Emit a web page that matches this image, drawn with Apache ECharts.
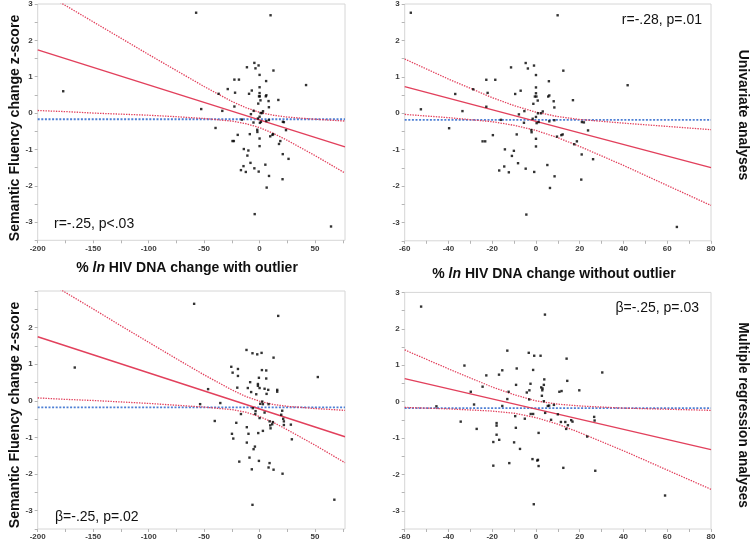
<!DOCTYPE html>
<html><head><meta charset="utf-8">
<script src="https://cdn.jsdelivr.net/npm/echarts@6/dist/echarts.min.js"></script>
<style>html,body{margin:0;padding:0;background:#fff}#c{width:750px;height:541px}</style>
</head><body><div id="c"></div>
<script>
// ---------- DATA ----------
// Univariate (without outlier) points: x = % ln HIV DNA change, y = semantic fluency change z-score
const uniX = [-57.2,-52.6,-39.7,-36.9,-33.6,-28.7,-22.7,-22.1,-18.6,-22.7,-24.4,-23.2,-19.7,-16.0,-14.2,-16.8,-14.5,-12.4,-11.4,-11.0,-10.1,-9.5,-8.8,-8.2,-7.0,-7.8,-5.5,-5.3,-4.7,-3.7,-4.7,-4.4,-2.1,-2.0,-1.5,-1.2,-0.9,-0.8,-0.5,0,0,0,0.2,0,0,0,0.8,0.9,0.3,1.2,2.3,3.1,5.2,5.9,5.6,6.1,6.1,8.1,8.4,8.4,8.5,6.4,9.6,9.9,12.5,16.9,21.0,21.9,23.8,11.6,12.2,17.5,18.7,20.9,26.1,20.7,41.9,64.4];
const uniY = [2.76,0.11,-0.41,0.53,0.06,0.66,0.92,0.56,0.92,0.18,-0.77,-0.77,-0.60,-0.18,-0.99,-1.57,-1.46,-1.62,1.26,-1.17,-1.03,0.53,-0.58,-1.37,0.62,-0.03,-0.26,0.06,1.38,1.23,-1.52,-2.78,-0.46,-0.52,-0.15,0.26,1.31,-1.61,0.46,1.05,0.71,0.55,0.46,-0.10,-0.70,-0.91,0.35,0.0,-0.27,-0.24,0.0,0.05,-1.42,0.88,0.46,0.49,-0.22,0.33,0.16,-0.19,-1.73,-2.05,-0.64,2.69,1.17,0.36,-0.24,-0.25,-0.47,-0.60,-0.58,-0.85,-0.77,-1.13,-1.26,-1.82,0.77,-3.12];
const uniOutlier = [-177, 0.60];

// Multiple regression, with outlier
const mwX = [-166.6,-59.0,-53.6,-46.4,-40.4,-35.4,-25.5,-24.3,-24.9,-23.7,-21.0,-20.1,-19.5,-19.5,-18.3,-16.8,-11.8,-11.5,-11.5,-10.6,-10.0,-9.1,-8.5,-7.6,-7.0,-6.4,-6.1,-6.4,-5.4,-4.2,-3.9,-3.6,-3.0,-2.1,-1.5,-1.5,-1.2,-0.6,-0.6,0,0,0.6,1.8,2.1,2.4,3.0,3.0,4.5,4.5,6.0,6.0,6.3,7.8,8.1,8.1,9.0,9.0,9.6,9.9,11.4,12.0,12.6,12.6,15.9,15.9,16.8,19.5,20.4,20.7,21.3,21.9,21.9,28.2,29.1,52.5,67.4];
const mwY = [0.91,2.65,-0.09,0.32,-0.55,-0.06,0.93,0.77,-0.90,-1.03,-0.60,0.36,0.87,0.68,-1.66,-0.36,1.39,-0.72,-1.14,0.35,-0.90,-1.55,0.51,0.24,-1.87,1.30,-0.20,-2.84,-1.32,-1.25,-0.36,-0.28,0.18,1.27,0.46,0.41,-0.88,0.63,-1.64,0.35,-0.47,-0.08,1.31,0.84,-0.02,-0.09,-0.82,-0.32,0.33,0.83,0.61,0.19,0.30,-0.09,-1.82,-1.70,-0.56,-0.67,-0.75,-0.64,-0.58,1.18,-1.88,0.30,0.25,2.32,-0.38,-0.27,-1.99,-0.49,-0.56,-0.66,-0.65,-1.05,0.65,-2.70];

// Multiple regression, without outlier
const moX = [-52.5,-45.5,-34.4,-32.7,-29.8,-28.3,-27.1,-24.4,-22.7,-19.5,-19.5,-18.0,-18.0,-18.0,-16.8,-16.9,-15.4,-15.4,-13.1,-12.5,-13.1,-12.2,-10.0,-9.5,-9.2,-8.8,-9.1,-7.3,-5.1,-4.2,-3.3,-3.0,-2.5,-3.1,-2.4,-1.3,-1.6,-1.3,-0.8,-1.0,0.6,0.9,1.2,1.2,2.1,2.4,3.0,2.9,2.7,3.8,3.6,4.1,3.6,4.2,5.4,6.0,6.9,8.2,10.7,11.7,10.0,11.4,13.4,13.8,14.0,14.3,14.6,16.1,16.7,12.5,19.8,23.4,26.6,26.8,27.1,30.3,59.0];
const moY = [2.61,-0.13,-0.55,0.99,0.27,-0.08,-0.75,0.41,0.72,-1.11,-1.76,-0.59,-0.66,-0.91,-1.05,0.74,0.86,-0.12,1.40,0.27,0.07,-1.69,-1.12,-0.40,-0.72,0.91,0.46,-1.30,-0.47,0.25,1.34,0.31,0.49,0.06,-0.34,-0.34,-1.58,0.87,1.26,-2.82,-1.62,-1.60,-1.77,-0.86,1.26,0.39,0.36,0.31,0.16,0.61,0.46,2.39,0.01,-0.31,-0.12,-0.11,-0.50,-0.09,0.27,0.29,-0.35,-0.56,-0.56,-0.75,1.18,0.57,-0.65,-0.51,-0.55,-1.82,0.31,-0.96,-0.42,-0.52,-1.90,0.80,-2.58];

// Fit lines: [x, y] endpoints
const fit1 = [[-200, 1.74], [77, -0.93]];
const fit2 = [[-60, 0.73], [80, -1.49]];
const fit3 = [[-200, 1.75], [77, -0.98]];
const fit4 = [[-60, 0.63], [80, -1.32]];
const meanY = [-0.17, -0.18, -0.18, -0.18];

// Confidence bands
const bandXwide = [-200,-175,-150,-125,-100,-75,-50,-25,-12.5,0,12.5,25,50,77];
const up1 = [3.41,2.96,2.51,2.06,1.61,1.17,0.73,0.32,0.15,0.02,-0.06,-0.11,-0.17,-0.22];
const lo1 = [0.07,0.04,0.00,-0.03,-0.06,-0.10,-0.15,-0.22,-0.29,-0.40,-0.56,-0.75,-1.17,-1.65];
const up3 = [3.42,2.96,2.51,2.05,1.60,1.15,0.71,0.30,0.12,-0.01,-0.10,-0.15,-0.21,-0.26];
const lo3 = [0.08,0.04,0.01,-0.03,-0.07,-0.12,-0.17,-0.24,-0.31,-0.43,-0.59,-0.79,-1.21,-1.69];
const bandXnarrow = [-60,-40,-20,-10,0,10,20,40,60,80];
const up2 = [1.49,0.94,0.43,0.21,0.03,-0.09,-0.17,-0.27,-0.36,-0.45];
const lo2 = [-0.03,-0.12,-0.23,-0.33,-0.47,-0.67,-0.91,-1.43,-1.98,-2.53];
const up4 = [1.42,0.90,0.40,0.19,0.02,-0.07,-0.12,-0.18,-0.21,-0.24];
const lo4 = [-0.16,-0.20,-0.26,-0.32,-0.44,-0.62,-0.85,-1.35,-1.88,-2.41];

// Tick labels
const xLabelsWide = [-200,-150,-100,-50,0,50];
const xTicksWide = [-200,-175,-150,-125,-100,-75,-50,-25,0,25,50,75];
const xLabelsNarrow = [-60,-40,-20,0,20,40,60,80];
const xTicksNarrow = [-60,-50,-40,-30,-20,-10,0,10,20,30,40,50,60,70,80];
const yLabels = [-3,-2,-1,0,1,2,3];
const yLabelsNo3 = [-3,-2,-1,0,1,2];
const yTicks = [-3.5,-3,-2.5,-2,-1.5,-1,-0.5,0,0.5,1,1.5,2,2.5,3];

// ---------- CHART ----------
const RED = '#e2405c', BLUE = '#4d7fd4';
const zip = (xs, ys) => xs.map((v, i) => [v, ys[i]]);
const chart = echarts.init(document.getElementById('c'), null, {renderer: 'canvas'});

const grids = [
  {left: 37.7, top: 3, width: 307.3, height: 237.3},
  {left: 404.7, top: 3, width: 306.3, height: 237.8},
  {left: 37.7, top: 291, width: 307.3, height: 238.4},
  {left: 404.7, top: 292.4, width: 306.3, height: 238}
].map(g => Object.assign({show: true, borderColor: '#d6d6d6', borderWidth: 1, containLabel: false}, g));

const lblFont = {fontSize: 8, color: '#3a3a3a', fontFamily: 'Liberation Sans, Arial, sans-serif', fontWeight: 'bold'};
function xAx(gi, min, max, labels, ticks) {
  return {type: 'value', gridIndex: gi, min, max, position: 'bottom', splitLine: {show: false},
    axisLine: {show: false, onZero: false},
    axisTick: {show: true, length: 3, lineStyle: {color: '#b5b5b5'}, customValues: ticks},
    axisLabel: Object.assign({customValues: labels, margin: 4}, lblFont)};
}
function yAx(gi, labels) {
  return {type: 'value', gridIndex: gi, min: -3.5, max: 3, position: 'left', splitLine: {show: false},
    axisLine: {show: false, onZero: false},
    axisTick: {show: true, length: 3, lineStyle: {color: '#b5b5b5'}, customValues: yTicks},
    axisLabel: Object.assign({customValues: labels, margin: 5}, lblFont)};
}

const xAxes = [xAx(0, -200, 77, xLabelsWide, xTicksWide), xAx(1, -60, 80, xLabelsNarrow, xTicksNarrow),
               xAx(2, -200, 77, xLabelsWide, xTicksWide), xAx(3, -60, 80, xLabelsNarrow, xTicksNarrow)];
const yAxes = [yAx(0, yLabels), yAx(1, yLabels), yAx(2, yLabelsNo3), yAx(3, yLabels)];

const series = [];
function panel(i, pts, fit, bx, up, lo, xmin, xmax) {
  series.push({type: 'line', xAxisIndex: i, yAxisIndex: i, data: [[xmin, meanY[i]], [xmax, meanY[i]]],
    symbol: 'none', lineStyle: {color: BLUE, width: 1.8, type: [2, 1.6]}, z: 2, silent: true});
  series.push({type: 'line', xAxisIndex: i, yAxisIndex: i, data: zip(bx, up), smooth: false,
    symbol: 'none', lineStyle: {color: RED, width: 1.3, type: [1.4, 1.2]}, z: 3, silent: true});
  series.push({type: 'line', xAxisIndex: i, yAxisIndex: i, data: zip(bx, lo), smooth: false,
    symbol: 'none', lineStyle: {color: RED, width: 1.3, type: [1.4, 1.2]}, z: 3, silent: true});
  series.push({type: 'line', xAxisIndex: i, yAxisIndex: i, data: fit,
    symbol: 'none', lineStyle: {color: RED, width: 1.4}, z: 4, silent: true});
  series.push({type: 'scatter', xAxisIndex: i, yAxisIndex: i, data: pts, symbol: 'rect', symbolSize: 2.4,
    itemStyle: {color: '#000'}, z: 5, silent: true});
}
panel(0, zip(uniX, uniY).concat([uniOutlier]), fit1, bandXwide, up1, lo1, -200, 77);
panel(1, zip(uniX, uniY), fit2, bandXnarrow, up2, lo2, -60, 80);
panel(2, zip(mwX, mwY), fit3, bandXwide, up3, lo3, -200, 77);
panel(3, zip(moX, moY), fit4, bandXnarrow, up4, lo4, -60, 80);

const FF = 'Liberation Sans, Arial, sans-serif';
function txt(text, x, y, font, align, rot, sx) {
  return {type: 'text', x, y, rotation: rot || 0, scaleX: sx || 1, silent: true,
    style: {text, font, fill: '#111', align, verticalAlign: 'middle', textAlign: align, textVerticalAlign: 'middle'}};
}
function xtitle(rest, x, y) {
  return {type: 'text', x, y, silent: true,
    style: {text: '{a|% }{i|ln}{a| HIV DNA change ' + rest + '}', align: 'center', verticalAlign: 'middle',
      textAlign: 'center', textVerticalAlign: 'middle',
      rich: {a: {font: 'bold 14px ' + FF, fill: '#111'}, i: {font: 'italic bold 14px ' + FF, fill: '#111'}}}};
}
const graphic = [
  txt('Semantic Fluency change z-score', 15, 128, 'bold 15px ' + FF, 'center', Math.PI / 2, 0.94),
  txt('Semantic Fluency change z-score', 15, 415, 'bold 15px ' + FF, 'center', Math.PI / 2, 0.94),
  txt('Univariate analyses', 743, 115, 'bold 14px ' + FF, 'center', -Math.PI / 2, 1),
  txt('Multiple regression analyses', 743, 415, 'bold 14px ' + FF, 'center', -Math.PI / 2, 0.97),
  xtitle('with outlier', 187, 268),
  xtitle('without outlier', 554, 274),
  txt('r=-.25, p<.03', 54, 224, '14px ' + FF, 'left'),
  txt('r=-.28, p=.01', 702, 20, '14px ' + FF, 'right'),
  txt('\u03b2=-.25, p=.02', 55, 517, '14px ' + FF, 'left'),
  txt('\u03b2=-.25, p=.03', 699, 308, '14px ' + FF, 'right')
];

chart.setOption({animation: false, backgroundColor: '#fff', grid: grids, xAxis: xAxes, yAxis: yAxes, series, graphic});
</script></body></html>
